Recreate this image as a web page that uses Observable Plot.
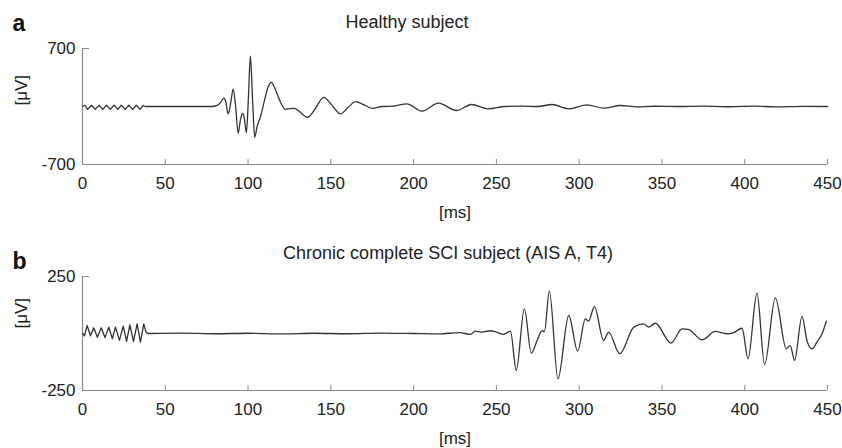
<!DOCTYPE html>
<html><head><meta charset="utf-8">
<script src="https://cdn.jsdelivr.net/npm/d3@7"></script>
<script src="https://cdn.jsdelivr.net/npm/@observablehq/plot@0.6"></script>
<style>
body{margin:0;background:#fff;}
#chart{width:842px;height:448px;}
#chart svg{display:block;}
</style></head><body><div id="chart"></div>
<script>
// ---- shared axis data ----
const xTicks = [0, 50, 100, 150, 200, 250, 300, 350, 400, 450];
const xLabel = "[ms]";
const yLabel = "[μV]";

// ---- panel a: healthy subject ----
const aLetter = "a";
const aTitle = "Healthy subject";
const aYTicks = [-700, 700];
// stimulation artefact (ms, µV)
const aArtT = [0, 1.5, 3, 5.5, 7.7, 10, 12.2, 14.5, 16.8, 19, 21.3, 23.5, 25.8, 28, 30.3, 32.5, 34.8, 36.5, 38];
const aArtV = [0, 15, -35, 15, -35, 15, -35, 15, -35, 15, -35, 15, -35, 15, -35, 15, -35, 10, 0];
// evoked response (ms, µV)
const aRespT = [38, 78, 81, 83.5, 85.3, 86.5, 88, 89.5, 91, 92.5, 94, 95.5, 96.8, 97.8, 99, 100.2, 101.4, 102.8, 104, 105.5, 107.5, 110, 112, 114, 116, 119, 122.6, 125, 128, 131, 136, 140.5, 145.7, 150.5, 155.8, 160.5, 165, 170, 175, 181, 188, 196, 205, 215, 226, 235, 245, 255, 265, 275, 283.6, 293.7, 304.7, 314.8, 325, 335, 345, 360, 375, 390, 405, 420, 435, 450];
const aRespV = [0, 0, 10, 50, 100, 60, -90, 40, 208, 0, -323, -150, -82, -150, -316, 100, 610, 50, -372, -240, -123, 80, 230, 292, 230, 80, -34, -25, -22, -60, -130, -30, 111, 20, -90, -10, 58, 20, -22, 0, 5, 32, -56, 40, -48, 24, -28, 0, 5, 0, 24, -28, 20, -20, 12, -5, 3, 0, 5, -3, 4, -4, 2, 0];

// ---- panel b: chronic complete SCI subject ----
const bLetter = "b";
const bTitle = "Chronic complete SCI subject (AIS A, T4)";
const bYTicks = [-250, 250];
const bArtT = [0, 1.2, 2.8, 4.8, 6.8, 9, 11.3, 13.6, 15.9, 18, 19.9, 22.3, 24.6, 26.6, 28.6, 30.8, 33, 35, 37, 38.5, 40];
const bArtV = [0, -10, 35, -10, 25, -16, 25, -18, 28, -23, 28, -30, 32, -34, 38, -35, 42, -38, 42, 3, 0];
const bRespT = [40, 60, 80, 100, 120, 140, 160, 180, 200, 215, 228, 234.3, 237.3, 241, 246.4, 250, 254.4, 258.5, 262, 266.9, 271.1, 274.6, 277.6, 279, 282, 287.2, 293.7, 299.1, 303.7, 305.7, 309.2, 314.8, 317.8, 324.5, 333, 339, 342, 346, 355.5, 362.1, 366, 374.2, 382.2, 389.3, 393, 398.4, 402, 407.4, 412, 418.5, 425.1, 427.5, 430.1, 434.6, 437.6, 440.6, 443.6, 446.7, 449.3];
const bRespV = [0, 2, -1, 1, -2, 1, -1, 2, 0, -2, 4, -4, 10, 6, 12, 6, -4, 10, -162, 108, -86, -31, 13, 8, 186, -199, 79, -77, 64, 55, 118, -31, 6, -89, 28, 42, 28, 45, -42, 20, 18, -28, 9, -1, 3, 23, -111, 177, -136, 156, -67, -53, -118, 75, -31, -67, -38, -1, 54];

const FONT = "'Liberation Sans', Arial, Helvetica, sans-serif";
const W = 842, H = 224, ML = 82, MR = 15;

function panel(o) {
  const frameH = H - o.mt - o.mb;
  const frameW = W - ML - MR;
  const yMax = o.yTicks[1];
  return Plot.plot({
    width: W, height: H,
    marginLeft: ML, marginRight: MR, marginTop: o.mt, marginBottom: o.mb,
    style: {fontFamily: FONT, fontSize: "17px", color: "#222", background: "#fff"},
    x: {domain: [0, 450], label: null},
    y: {domain: [-yMax, yMax], label: null},
    marks: [
      Plot.ruleX([0], {stroke: "#8a8a8a", strokeWidth: 1.2}),
      Plot.ruleY([-yMax], {stroke: "#8a8a8a", strokeWidth: 1.2}),
      Plot.tickX(xTicks, {x: d => d, insetTop: frameH - 5, stroke: "#8a8a8a"}),
      Plot.tickY(o.yTicks, {y: d => d, insetRight: frameW - 7, stroke: "#8a8a8a"}),
      Plot.axisX(xTicks, {tickSize: 0, tickPadding: 12, label: null, fontSize: 17, tickFormat: d => String(d)}),
      Plot.axisY(o.yTicks, {tickSize: 0, tickPadding: 7, label: null, fontSize: 17, tickFormat: d => String(d)}),
      Plot.line(o.artV, {x: o.artT, y: o.artV, stroke: "#333", strokeWidth: 1.3, curve: "linear"}),
      Plot.line(o.respV, {x: o.respT, y: o.respV, stroke: "#333", strokeWidth: 1.3, curve: "monotone-x"}),
      Plot.text([o.title], {text: d => d, frameAnchor: "top", lineAnchor: "middle", dx: o.titleDx, dy: o.titleDy, fontSize: 18, fill: "#222"}),
      Plot.text([o.letter], {text: d => d, frameAnchor: "top-left", textAnchor: "start", lineAnchor: "middle", dx: 12 - ML, dy: o.letterDy, fontSize: 23, fontWeight: "bold", fill: "#111"}),
      Plot.text([xLabel], {text: d => d, frameAnchor: "bottom", lineAnchor: "middle", dy: 48, fontSize: 17, fill: "#222"}),
      Plot.text([yLabel], {text: d => d, frameAnchor: "left", rotate: -90, lineAnchor: "middle", dx: 21 - ML, dy: o.yLabelDy, fontSize: 17, fill: "#222"})
    ]
  });
}

const chart = document.getElementById("chart");
chart.append(panel({letter: aLetter, title: aTitle, yTicks: aYTicks, artT: aArtT, artV: aArtV, respT: aRespT, respV: aRespV,
  mt: 48, mb: 60, titleDx: -48, titleDy: -26, letterDy: -25, yLabelDy: -1}));
chart.append(panel({letter: bLetter, title: bTitle, yTicks: bYTicks, artT: bArtT, artV: bArtV, respT: bRespT, respV: bRespV,
  mt: 52, mb: 58, titleDx: -7, titleDy: -23, letterDy: -15, yLabelDy: -5}));
</script>
</body></html>
